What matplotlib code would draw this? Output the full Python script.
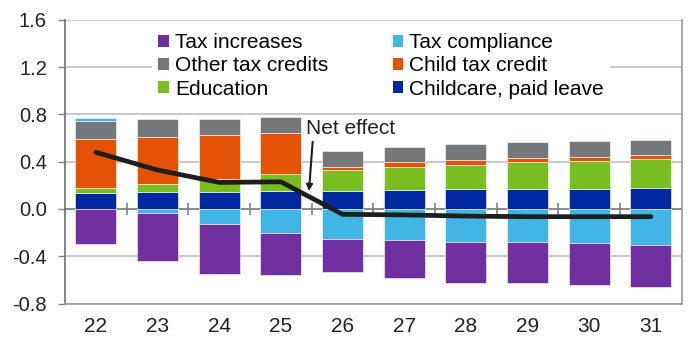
import matplotlib.pyplot as plt
from matplotlib.patches import Patch

plt.rcParams['font.family'] = ['Liberation Sans', 'DejaVu Sans']

years = ['22', '23', '24', '25', '26', '27', '28', '29', '30', '31']

# components, percent of GDP
childcare = [0.138, 0.144, 0.146, 0.150, 0.155, 0.163, 0.169, 0.169, 0.169, 0.178]
education = [0.037, 0.070, 0.107, 0.144, 0.175, 0.192, 0.205, 0.228, 0.234, 0.243]
child_credit = [0.417, 0.397, 0.374, 0.347, 0.028, 0.042, 0.042, 0.034, 0.034, 0.034]
other_credits = [0.155, 0.150, 0.138, 0.135, 0.132, 0.124, 0.135, 0.133, 0.138, 0.132]
compliance = [0.020, -0.031, -0.124, -0.200, -0.251, -0.265, -0.279, -0.279, -0.287, -0.302]
increases = [-0.298, -0.411, -0.426, -0.358, -0.282, -0.316, -0.344, -0.349, -0.355, -0.355]
net_effect = [0.48, 0.33, 0.225, 0.23, -0.045, -0.05, -0.06, -0.065, -0.065, -0.065]

series = [
    ('Childcare, paid leave', childcare, '#0028a0'),
    ('Education', education, '#78be20'),
    ('Child tax credit', child_credit, '#e35205'),
    ('Other tax credits', other_credits, '#75787b'),
    ('Tax compliance', compliance, '#41b6e6'),
    ('Tax increases', increases, '#7030a0'),
]

fig = plt.figure(figsize=(6.88, 3.37), dpi=100)
ax = fig.add_axes([0.0945, 0.0994, 0.8965, 0.8413])

x = list(range(len(years)))
pos = [0.0] * len(years)
neg = [0.0] * len(years)
colors = {}
for name, vals, col in series:
    bottoms = []
    for i, v in enumerate(vals):
        if v >= 0:
            bottoms.append(pos[i])
            pos[i] += v
        else:
            bottoms.append(neg[i])
            neg[i] += v
    ax.bar(x, vals, bottom=bottoms, width=0.665, color=col,
           edgecolor='white', linewidth=0.4, zorder=3)
    colors[name] = col

ax.plot(x, net_effect, color='#1e1e1e', linewidth=3.4, solid_capstyle='round', zorder=4)

# zero line with small category separators
ax.axhline(0, color='#808080', linewidth=1.2, zorder=1)
ax.vlines([i + 0.5 for i in range(len(years) - 1)], -0.05, 0.05,
          color='#808080', linewidth=1.2, zorder=1)

ax.set_xlim(-0.5, 9.5)
ax.set_ylim(-0.8, 1.6)
ax.set_yticks([-0.8, -0.4, 0.0, 0.4, 0.8, 1.2, 1.6])
ax.set_yticklabels(['-0.8', '-0.4', '0.0', '0.4', '0.8', '1.2', '1.6'])
ax.set_xticks(x)
ax.set_xticklabels(years)
ax.tick_params(axis='x', length=0, pad=10, labelsize=15, colors='#222222')
ax.tick_params(axis='y', length=5, width=1, pad=8, labelsize=14.5,
               colors='#222222', color='#7f7f7f')
ax.grid(axis='y', color='#c0c0c0', linewidth=1.2, zorder=0)
ax.set_axisbelow(True)

ax.spines['top'].set_visible(False)
ax.spines['left'].set_color('#6f6f6f')
ax.spines['bottom'].set_color('#9a9a9a')
ax.spines['right'].set_color('#9a9a9a')
for s in ['left', 'bottom', 'right']:
    ax.spines[s].set_linewidth(1.2)

order = ['Tax increases', 'Other tax credits', 'Education',
         'Tax compliance', 'Child tax credit', 'Childcare, paid leave']
handles = [Patch(facecolor=colors[n], label=n) for n in order]
leg = ax.legend(handles=handles, ncol=2, loc='upper left',
                bbox_to_anchor=(0.141, 0.975), frameon=True, fontsize=15,
                handlelength=0.5, handleheight=0.5, handletextpad=0.3,
                labelspacing=0.2, columnspacing=3.1, borderpad=0.3,
                borderaxespad=0)
leg.get_frame().set_facecolor('white')
leg.get_frame().set_edgecolor('none')
leg.get_frame().set_alpha(1)
leg.set_zorder(5)

ax.text(3.41, 0.68, 'Net effect', fontsize=15, color='#222222',
        va='center', ha='left', zorder=6)
ax.annotate('', xy=(3.455, 0.152), xytext=(3.515, 0.569),
            arrowprops=dict(arrowstyle='-|>', color='#1e1e1e', lw=1.5,
                            shrinkA=0, shrinkB=0, mutation_scale=9),
            zorder=6)

fig.savefig('out.png', dpi=100)
